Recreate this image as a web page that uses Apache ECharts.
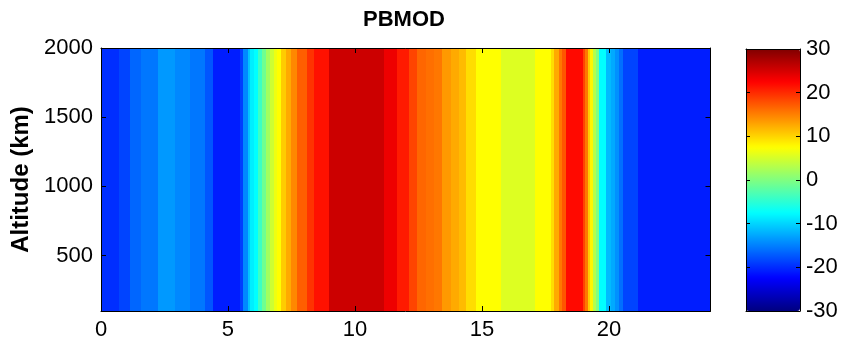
<!DOCTYPE html>
<html>
<head>
<meta charset="utf-8">
<script src="https://cdn.jsdelivr.net/npm/echarts@6/dist/echarts.min.js"></script>
<style>html,body{margin:0;padding:0;background:#fff}#c{width:842px;height:343px}</style>
</head>
<body>
<div id="c"></div>
<script>
// ---- data ----
const titleText = 'PBMOD';
const yAxisLabel = 'Altitude (km)';
const hourMin = 0, hourMax = 24;
const altMin = 100, altMax = 2000;
const xTicks = [0, 5, 10, 15, 20];
const yTicks = [500, 1000, 1500, 2000];
const cMin = -30, cMax = 30, cInterval = 10;
// start hour of each vertical band (each band ends where the next begins)
const segStart = [
  0.00, 0.70, 1.13, 1.59, 2.24, 2.93, 3.49, 4.08, 4.42, 5.47,
  5.60, 5.78, 5.87, 6.03, 6.18, 6.34, 6.50, 6.65, 6.81, 6.92,
  7.10, 7.30, 7.50, 7.70, 8.10, 8.37, 8.96, 11.13, 11.65, 12.13,
  12.45, 12.78, 13.11, 13.44, 13.77, 14.09, 14.36, 14.75, 15.74, 17.10,
  17.72, 17.85, 18.04, 18.17, 18.30, 18.96, 19.06, 19.16, 19.26, 19.36,
  19.49, 19.62, 19.88, 20.08, 20.22, 20.38, 20.55, 21.14
];
const segValue = [
  -19.8, -18.5, -16.5, -15.5, -13.5, -14.5, -15.5, -17.5, -20.8, -19.0,
  -14.5, -11.0, -8.5, -7.5, -4.0, -1.0, 2.0, 4.5, 6.5, 7.5,
  10.5, 12.5, 14.5, 17.0, 19.5, 21.5, 25.5, 23.5, 21.0, 18.5,
  16.5, 16.0, 15.5, 13.5, 12.5, 11.5, 9.5, 7.5, 5.5, 7.5,
  9.5, 12.5, 15.5, 17.5, 22.0, 18.5, 15.5, 10.5, 8.0, 3.0,
  0.0, -7.5, -11.5, -12.5, -14.0, -16.0, -18.5, -20.8
];
const jetColors = ['#000080','#0000ff','#0080ff','#00ffff','#80ff80','#ffff00','#ff8000','#ff0000','#800000'];

const bandData = segStart.map((s, i) => [s, i + 1 < segStart.length ? segStart[i + 1] : hourMax, segValue[i]]);

const FONT = "'Liberation Sans', Arial, sans-serif";
const chart = echarts.init(document.getElementById('c'), null, {renderer: 'canvas'});

const lineStyle = {color: '#000', width: 1};
const hiddenAxisBits = {axisLabel: {show: false}, splitLine: {show: false}};
const plain = v => String(v);

chart.setOption({
  animation: false,
  backgroundColor: '#fff',
  title: {
    text: titleText, left: 404, top: 9, textAlign: 'center', padding: 0,
    textStyle: {fontFamily: FONT, fontSize: 22, fontWeight: 'bold', color: '#000'}
  },
  grid: [
    {left: 101, top: 48, width: 609.5, height: 263, show: false, containLabel: false, outerBoundsMode: 'none'},
    {left: 746, top: 49, width: 54, height: 262, show: false, containLabel: false, outerBoundsMode: 'none'}
  ],
  xAxis: [
    {type: 'value', gridIndex: 0, min: hourMin, max: hourMax, position: 'bottom', z: 10,
     axisLine: {show: true, onZero: false, lineStyle},
     axisTick: {show: true, inside: true, length: 5, lineStyle, customValues: xTicks},
     axisLabel: {show: true, customValues: xTicks, formatter: plain, fontFamily: FONT, fontSize: 22, color: '#000', margin: 8},
     splitLine: {show: false}},
    {type: 'value', gridIndex: 0, min: hourMin, max: hourMax, position: 'top', z: 10,
     axisLine: {show: true, onZero: false, lineStyle},
     axisTick: {show: true, inside: true, length: 5, lineStyle, customValues: xTicks},
     ...hiddenAxisBits},
    {type: 'value', gridIndex: 1, min: 0, max: 1, position: 'bottom', z: 10,
     axisLine: {show: true, onZero: false, lineStyle}, axisTick: {show: false}, ...hiddenAxisBits},
    {type: 'value', gridIndex: 1, min: 0, max: 1, position: 'top', z: 10,
     axisLine: {show: true, onZero: false, lineStyle}, axisTick: {show: false}, ...hiddenAxisBits}
  ],
  yAxis: [
    {type: 'value', gridIndex: 0, min: altMin, max: altMax, position: 'left', z: 10,
     name: yAxisLabel, nameLocation: 'middle', nameGap: 66, nameRotate: 90,
     nameTextStyle: {fontFamily: FONT, fontSize: 24, fontWeight: 'bold', color: '#000'},
     axisLine: {show: true, onZero: false, lineStyle},
     axisTick: {show: true, inside: true, length: 5, lineStyle, customValues: yTicks},
     axisLabel: {show: true, customValues: yTicks, formatter: plain, fontFamily: FONT, fontSize: 22, color: '#000', margin: 8},
     splitLine: {show: false}},
    {type: 'value', gridIndex: 0, min: altMin, max: altMax, position: 'right', z: 10,
     axisLine: {show: true, onZero: false, lineStyle},
     axisTick: {show: true, inside: true, length: 5, lineStyle, customValues: yTicks},
     ...hiddenAxisBits},
    {type: 'value', gridIndex: 1, min: cMin, max: cMax, interval: cInterval, position: 'right', z: 10,
     axisLine: {show: true, onZero: false, lineStyle},
     axisTick: {show: true, inside: true, length: 4, lineStyle},
     axisLabel: {show: true, formatter: plain, fontFamily: FONT, fontSize: 22, color: '#000', margin: 6},
     splitLine: {show: false}},
    {type: 'value', gridIndex: 1, min: cMin, max: cMax, interval: cInterval, position: 'left', z: 10,
     axisLine: {show: true, onZero: false, lineStyle},
     axisTick: {show: true, inside: true, length: 4, lineStyle},
     ...hiddenAxisBits}
  ],
  visualMap: {
    type: 'continuous', min: cMin, max: cMax, dimension: 2, seriesIndex: 0,
    inRange: {color: jetColors},
    left: 746, top: 49, itemWidth: 54, itemHeight: 262, padding: 0,
    text: ['', ''], showLabel: false, calculable: false, hoverLink: false, z: 1,
    orient: 'vertical'
  },
  series: [{
    type: 'custom',
    xAxisIndex: 0, yAxisIndex: 0,
    data: bandData,
    clip: true,
    renderItem: function (params, api) {
      const p0 = api.coord([api.value(0), altMax]);
      const p1 = api.coord([api.value(1), altMin]);
      const x0 = Math.round(p0[0]), x1 = Math.round(p1[0]);
      return {
        type: 'rect',
        shape: {x: x0, y: p0[1], width: x1 - x0, height: p1[1] - p0[1]},
        style: {fill: api.visual('color')}
      };
    }
  }]
});
</script>
</body>
</html>
